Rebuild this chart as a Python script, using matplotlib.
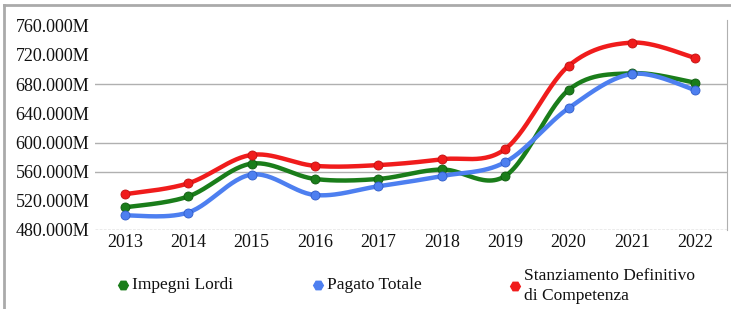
import numpy as np
import matplotlib
matplotlib.use("Agg")
import matplotlib.pyplot as plt
from matplotlib.lines import Line2D

plt.rcParams['font.family'] = ['Liberation Serif', 'DejaVu Serif']

years = ["2013", "2014", "2015", "2016", "2017", "2018", "2019", "2020", "2021", "2022"]
impegni_lordi = [511, 526, 571, 550, 550, 563, 554, 672, 695, 682]
pagato_totale = [500, 504, 556, 528, 540, 554, 573, 647, 694, 672]
stanziamento = [529, 544, 583, 568, 569, 577, 591, 705, 737, 716]
yticks = [480, 520, 560, 600, 640, 680, 720, 760]
grid_vals = [560, 600, 680]

series = [
    ("Impegni Lordi", impegni_lordi, "#1a7d1a", "#0f5a0f"),
    ("Pagato Totale", pagato_totale, "#4d7ff0", "#2f5cc8"),
    ("Stanziamento Definitivo\ndi Competenza", stanziamento, "#f01c1c", "#c01010"),
]


def smooth(y, n=30):
    # catmull-rom through the points, like the spreadsheet "smoothed line"
    y = np.asarray(y, float)
    x = np.arange(len(y), dtype=float)
    px = np.concatenate([[x[0]], x, [x[-1]]])
    py = np.concatenate([[y[0]], y, [y[-1]]])
    xs, ys = [], []
    t = np.linspace(0, 1, n)
    for i in range(1, len(px) - 2):
        for p, out in ((px, xs), (py, ys)):
            p0, p1, p2, p3 = p[i - 1], p[i], p[i + 1], p[i + 2]
            out.append(0.5 * (2 * p1 + (-p0 + p2) * t
                              + (2 * p0 - 5 * p1 + 4 * p2 - p3) * t ** 2
                              + (-p0 + 3 * p1 - 3 * p2 + p3) * t ** 3))
    return np.concatenate(xs), np.concatenate(ys)


W, H = 731, 309
fig = plt.figure(figsize=(W / 100, H / 100), dpi=100)
ax = fig.add_axes([95 / W, 1 - 230 / H, (727 - 95) / W, 210 / H])

x = np.arange(len(years))
for label, vals, c, ec in series:
    sx, sy = smooth(vals)
    ax.plot(sx, sy, color=c, lw=3.2, solid_capstyle='round', zorder=3)
    ax.plot(x, vals, 'o', color=c, mec=ec, mew=0.6, ms=6.5, zorder=4)

for g in grid_vals:
    ax.axhline(g, color="#b0b0b0", lw=1, zorder=1)
ax.axhline(480, color="#999999", lw=1, ls=(0, (2, 1)), zorder=1)

ax.set_xlim(-0.47, 9.5)
ax.set_ylim(480, 768)
ax.set_xticks(x)
ax.set_xticklabels(years)
ax.set_yticks(yticks)
ax.set_yticklabels([f"{v}.000M" for v in yticks])
ax.tick_params(length=0, labelsize=13, colors="#111111")
ax.tick_params(axis='y', pad=4)
ax.tick_params(axis='x', pad=3)
for s in ["top", "left", "bottom"]:
    ax.spines[s].set_visible(False)
ax.spines["right"].set_color("#b0b0b0")

# legend, placed by hand like the original
legend_pos = [(123, 285), (318, 285), (515, 286)]
for (label, _, c, ec), (mx, my) in zip(series, legend_pos):
    fig.add_artist(Line2D([mx / W], [1 - my / H], transform=fig.transFigure,
                          marker='H', color=c, mec=c, ms=7, ls='none'))
    fig.text((mx + 9) / W, 1 - my / H, label, fontsize=12.5, va='center',
             ha='left', linespacing=1.25, color="#111111")

# outer frame
fig.add_artist(Line2D([4 / W, 4 / W], [0, 1 - 5 / H], transform=fig.transFigure,
                      color="#aaaaaa", lw=2))
fig.add_artist(Line2D([4 / W, 1], [1 - 5 / H, 1 - 5 / H], transform=fig.transFigure,
                      color="#aaaaaa", lw=2))

fig.savefig("out.png", dpi=100)
